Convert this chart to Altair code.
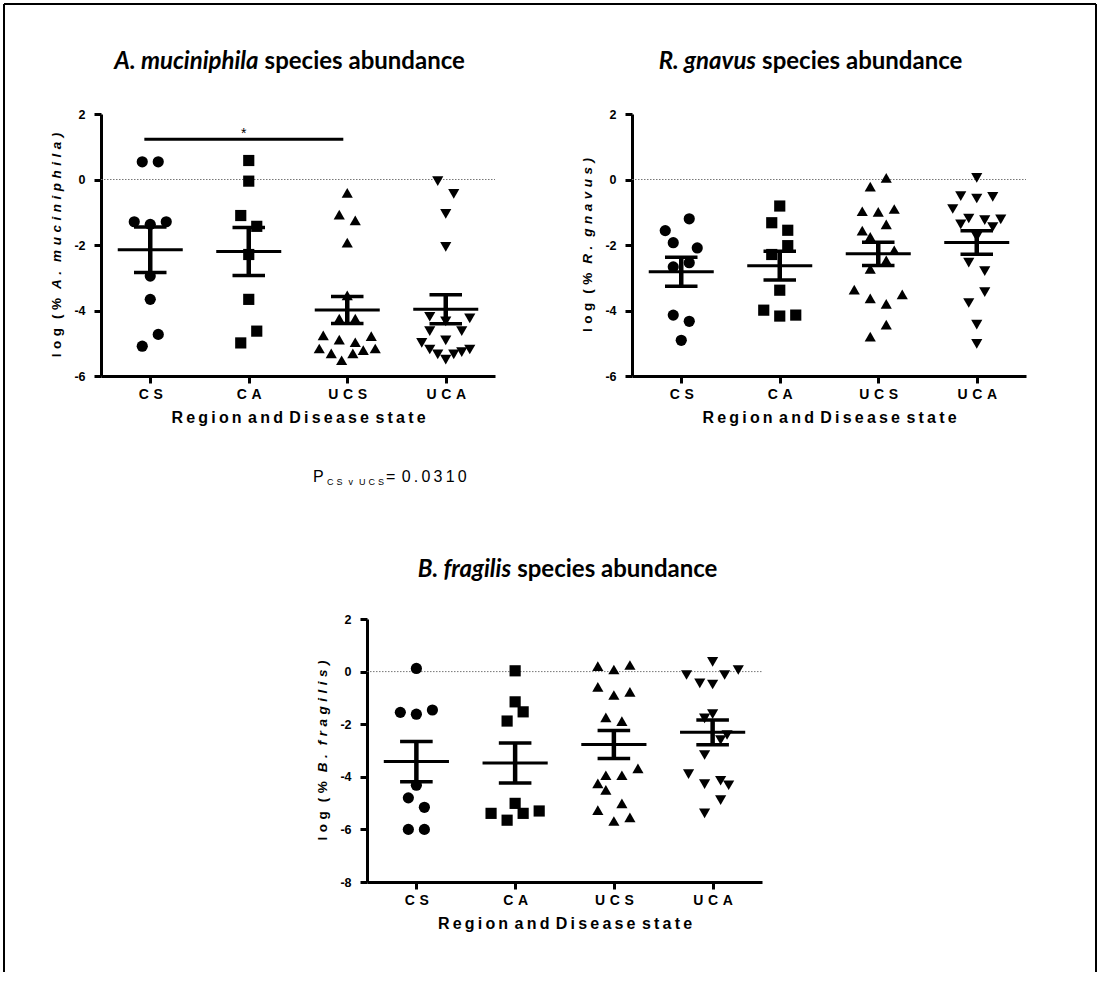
import altair as alt
import pandas as pd

groups = ["CS", "CA", "UCS", "UCA"]

# ---------- A. muciniphila : log(% abundance) ----------
akk_cs = [0.54, 0.54, -1.29, -1.37, -1.29, -2.95, -3.66, -4.73, -5.09]
akk_ca = [0.58, -0.05, -1.10, -1.43, -2.29, -3.66, -4.63, -4.99]
akk_ucs = [-0.41, -1.07, -1.25, -1.93, -3.54, -4.25, -4.25, -4.76, -4.89,
           -4.97, -4.78, -5.16, -5.31, -5.31, -5.21, -5.16, -5.52]
akk_uca = [-0.05, -0.44, -1.05, -2.06, -4.19, -4.33, -4.24, -4.63, -4.63,
           -4.91, -4.99, -5.19, -5.34, -5.50, -5.34, -5.27, -5.19]
# column (scatter slot) of each point inside its group
akk_cs_col = [-1, 1, -2, 0, 2, 0, 0, 1, -1]
akk_ca_col = [0, 0, -1, 1, 0, 0, 1, -1]
akk_ucs_col = [0, -1, 1, 0, 0, -1, 1, -3, -1, 1, 3, -3.5, -2, 0.7, 2, 3.5, -0.7]
akk_uca_col = [-1, 1, 0, 0, -2, 0, 3, -2, 2, 0, -3, -2, -1, 0, 1, 2, 3]

# ---------- R. gnavus ----------
rg_cs = [-1.20, -1.56, -1.93, -2.09, -2.54, -2.67, -4.14, -4.33, -4.91]
rg_ca = [-0.81, -1.32, -1.55, -2.02, -2.29, -3.38, -3.99, -4.17, -4.14]
rg_ucs = [0.05, -0.22, -0.97, -0.99, -0.90, -1.37, -1.56, -1.75, -2.16,
          -2.47, -2.73, -3.36, -3.51, -3.63, -3.80, -4.43, -4.80]
rg_uca = [0.05, -0.51, -0.58, -0.53, -0.90, -1.19, -1.24, -1.22, -1.37,
          -1.45, -1.75, -2.54, -2.80, -3.44, -3.77, -4.43, -5.02]
rg_cs_col = [1, -2, -1, 2, 1, -1, -1, 1, 0]
rg_ca_col = [0, -1, 1, 1, -1, 0, -2, 0, 2]
rg_ucs_col = [1, -1, -2, 0, 2, 1, -2, -1, 2, 1, -1, -3, 3, -1, 1, 1, -1]
rg_uca_col = [0, -2, 0, 2, -3, -1, 1, 3, -2, 2, 0, -1, 1, 1, -1, 0, 0]

# ---------- B. fragilis ----------
bf_cs = [0.12, -1.55, -1.62, -1.46, -4.32, -4.80, -5.16, -6.00, -6.00]
bf_ca = [0.03, -1.15, -1.53, -1.88, -5.01, -5.39, -5.65, -5.39, -5.30]
bf_ucs = [0.21, 0.08, 0.25, -0.58, -0.89, -0.77, -1.74, -1.88, -3.94,
          -3.94, -3.68, -4.25, -4.50, -5.01, -5.27, -5.54, -5.68]
bf_uca = [0.37, -0.13, -0.45, -0.49, -0.13, 0.06, -1.78, -1.62, -2.41,
          -2.60, -3.17, -3.90, -4.28, -4.15, -4.32, -5.39, -4.89]
bf_cs_col = [0, -2, 0, 2, 0, -1, 1, -1, 1]
bf_ca_col = [0, 0, 1, -1, 0, -3, -1, 1, 3]
bf_ucs_col = [-2, 0, 2, -2, 0, 2, -1, 1, -1, 1, 3, -2, -1, 1, -2, 2, 0]
bf_uca_col = [0, -3.25, -1.6, 0, 1.5, 3.2, -1, 0, 1.8, 1, -1, -3, -1, 1, 2, -1, 1]

# significance annotation (A. muciniphila, CS vs UCS)
sig_pair = ["CS", "UCS"]
sig_label = "*"
p_label = "P"
p_sub = "CS v UCS"
p_value = "0.0310"

x_title = "Region and Disease state"
title_rest = "species abundance"

# ---------------- styling / layout ----------------
SP = "\u2004"     # letter spacing (three-per-em space)
THIN = "\u2009"
AXIS_FONT = "Liberation Sans"
TITLE_FONT = "Lato"
TITLE_SIZE = 24
SLOT = 8 / 98.5
MEAN_HALF = 0.33
CAP_HALF = 0.165
MS = 125
SHAPES = ["circle", "square", "triangle-up", "triangle-down"]


def spaced(s, sp):
    return (sp + sp).join(sp.join(w) for w in s.split(" "))


AB = {'l': .278, 'o': .611, 'g': .611, '(': .333, '%': .889, ')': .333, 'A': .722,
      '.': .278, 'm': .889, 'u': .611, 'c': .556, 'i': .278, 'n': .611, 'p': .611,
      'h': .611, 'a': .556, 'R': .722, 'v': .556, 's': .556, 'B': .722, 'f': .333,
      'r': .389, ' ': .278, SP: 1 / 3}


def text_width(s, size):
    return size * sum(AB.get(c, 0.6) for c in s)


panels = [
    dict(vals=[akk_cs, akk_ca, akk_ucs, akk_uca],
         cols=[akk_cs_col, akk_ca_col, akk_ucs_col, akk_uca_col],
         italic="A. muciniphila", xr=[0, 394], yr=[262, 0], yd=[-6, 2],
         yticks=[-6, -4, -2, 0, 2], xoff=-506, yoff=0,
         title_x=1.10, title_y=3.59, sig=True),
    dict(vals=[rg_cs, rg_ca, rg_ucs, rg_uca],
         cols=[rg_cs_col, rg_ca_col, rg_ucs_col, rg_uca_col],
         italic="R. gnavus", xr=[531, 925], yr=[262, 0], yd=[-6, 2],
         yticks=[-6, -4, -2, 0, 2], xoff=-506, yoff=-531,
         title_x=0.76, title_y=3.59, sig=False),
    dict(vals=[bf_cs, bf_ca, bf_ucs, bf_uca],
         cols=[bf_cs_col, bf_ca_col, bf_ucs_col, bf_uca_col],
         italic="B. fragilis", xr=[266, 661], yr=[768, 505], yd=[-8, 2],
         yticks=[-8, -6, -4, -2, 0, 2], xoff=0, yoff=-266,
         title_x=0.96, title_y=3.86, sig=False),
]

label_list = [spaced(g, SP) for g in groups]
label_expr = "[" + ",".join("'" + s + "'" for s in label_list) + "][datum.value]"


def panel_layers(p):
    rows = []
    for gi, (g, vals, cols) in enumerate(zip(groups, p["vals"], p["cols"])):
        for v, c in zip(vals, cols):
            rows.append({"group": g, "gi": gi, "value": v, "col": c})
    df = pd.DataFrame(rows)
    xs = alt.Scale(domain=[-0.5, 3.5], range=p["xr"], nice=False, zero=False)
    ys = alt.Scale(domain=p["yd"], range=p["yr"], nice=False, zero=False)
    ppx = (p["xr"][1] - p["xr"][0]) / 4.0
    ppy = (p["yr"][0] - p["yr"][1]) / float(p["yd"][1] - p["yd"][0])

    xaxis = alt.Axis(orient="bottom", offset=p["xoff"], values=[0, 1, 2, 3],
                     labelExpr=label_expr, title=spaced(x_title, THIN), grid=False,
                     labelAngle=0, labelFlush=False, labelOverlap=False,
                     domainColor="black", domainWidth=3, tickColor="black",
                     tickWidth=3, tickSize=7, labelFont=AXIS_FONT, labelFontSize=14,
                     labelFontWeight="bold", labelColor="black", labelPadding=4,
                     titleFont=AXIS_FONT, titleFontSize=16, titleFontWeight="bold",
                     titleColor="black", titlePadding=8)
    yaxis = alt.Axis(orient="left", offset=p["yoff"], values=p["yticks"],
                     labelExpr="'' + datum.value", title=None, grid=False,
                     domainColor="black", domainWidth=3, tickColor="black",
                     tickWidth=3, tickSize=7, labelFont=AXIS_FONT, labelFontSize=12.5,
                     labelFontWeight="bold", labelColor="black", labelPadding=9)

    def X(f, axis=None):
        return alt.X(f, scale=xs, axis=axis)

    def Y(f, axis=None):
        return alt.Y(f, scale=ys, axis=axis)

    layers = []
    # dotted zero line
    zero = alt.Chart(pd.DataFrame({"a": [-0.5], "b": [3.5], "y": [0]})).mark_rule(
        color="#777777", strokeWidth=1, strokeDash=[1.5, 1.5]).encode(
        x=X("a:Q"), x2="b:Q", y=Y("y:Q"))
    layers.append(zero)

    pts = alt.Chart(df).transform_calculate(
        xp=f"datum.gi + datum.col * {SLOT}").mark_point(
        filled=True, color="black", opacity=1, size=MS).encode(
        x=X("xp:Q", xaxis), y=Y("value:Q", yaxis),
        shape=alt.Shape("group:N", scale=alt.Scale(domain=groups, range=SHAPES),
                        legend=None))
    layers.append(pts)

    stats = alt.Chart(df).transform_aggregate(
        m="mean(value)", se="stderr(value)", groupby=["gi"]).transform_calculate(
        lo="datum.m - datum.se", hi="datum.m + datum.se",
        a=f"datum.gi - {MEAN_HALF}", b=f"datum.gi + {MEAN_HALF}",
        c=f"datum.gi - {CAP_HALF}", d=f"datum.gi + {CAP_HALF}")
    layers.append(stats.mark_rule(color="black", strokeWidth=3).encode(
        x=X("a:Q"), x2="b:Q", y=Y("m:Q")))
    layers.append(stats.mark_rule(color="black", strokeWidth=4.5).encode(
        x=X("gi:Q"), y=Y("lo:Q"), y2="hi:Q"))
    layers.append(stats.transform_fold(["lo", "hi"], as_=["k", "cv"]).mark_rule(
        color="black", strokeWidth=3.5).encode(x=X("c:Q"), x2="d:Q", y=Y("cv:Q")))

    # panel title: italic species name + plain rest
    tdf = pd.DataFrame([{"x": p["title_x"], "x2": p["title_x"] + 6.0 / ppx,
                         "y": p["title_y"], "it": p["italic"], "rest": title_rest}])
    layers.append(alt.Chart(tdf).mark_text(
        font=TITLE_FONT, fontSize=TITLE_SIZE, fontWeight="bold", fontStyle="italic",
        align="right", baseline="middle", color="black").encode(
        x=X("x:Q"), y=Y("y:Q"), text="it:N"))
    layers.append(alt.Chart(tdf).mark_text(
        font=TITLE_FONT, fontSize=TITLE_SIZE, fontWeight="bold",
        align="left", baseline="middle", color="black").encode(
        x=X("x2:Q"), y=Y("y:Q"), text="rest:N"))

    # y axis title: "log (% " upright + species italic
    fs = 13.5
    gap = 9.0
    ta = spaced("log (%", SP)
    tb = spaced(p["italic"] + ")", SP)
    wa, wb = text_width(ta, fs) + gap, text_width(tb, fs)
    ymid = (p["yd"][0] + p["yd"][1]) / 2.0
    pivot = ymid - (wb - wa) / 2.0 / ppy
    ydf = pd.DataFrame([{"x": -0.5 - 44.0 / ppx, "ya": pivot - gap / ppy,
                         "yb": pivot, "a": ta, "b": tb}])
    layers.append(alt.Chart(ydf).mark_text(
        font=AXIS_FONT, fontSize=fs, fontWeight="bold", angle=270,
        align="right", baseline="middle", color="black").encode(
        x=X("x:Q"), y=Y("ya:Q"), text="a:N"))
    layers.append(alt.Chart(ydf).mark_text(
        font=AXIS_FONT, fontSize=fs, fontWeight="bold", fontStyle="italic",
        angle=270, align="left", baseline="middle", color="black").encode(
        x=X("x:Q"), y=Y("yb:Q"), text="b:N"))

    if p["sig"]:
        i0, i1 = groups.index(sig_pair[0]), groups.index(sig_pair[1])
        sdf = pd.DataFrame([{"a": i0 - 0.06, "b": i1 - 0.04, "y": 1.23,
                             "m": (i0 + i1) / 2.0 - 0.05, "t": sig_label}])
        layers.append(alt.Chart(sdf).mark_rule(color="black", strokeWidth=3).encode(
            x=X("a:Q"), x2="b:Q", y=Y("y:Q")))
        layers.append(alt.Chart(sdf).mark_text(
            font=AXIS_FONT, fontSize=14, align="center", baseline="alphabetic",
            dy=-1, color="black").encode(x=X("m:Q"), y=Y("y:Q"), text="t:N"))

        pdf = pd.DataFrame([{"x": 1.652, "y": -9.237, "p": p_label,
                             "s": spaced(p_sub, SP),
                             "v": "=" + THIN + THIN + spaced(p_value, THIN)}])
        layers.append(alt.Chart(pdf).mark_text(
            font=AXIS_FONT, fontSize=16, align="left", baseline="alphabetic",
            color="black").encode(x=X("x:Q"), y=Y("y:Q"), text="p:N"))
        layers.append(alt.Chart(pdf).mark_text(
            font=AXIS_FONT, fontSize=9, align="left", baseline="alphabetic",
            dx=14, dy=3, color="black").encode(x=X("x:Q"), y=Y("y:Q"), text="s:N"))
        layers.append(alt.Chart(pdf).mark_text(
            font=AXIS_FONT, fontSize=16, align="left", baseline="alphabetic",
            dx=73, color="black").encode(x=X("x:Q"), y=Y("y:Q"), text="v:N"))
    return layers


all_layers = []
for p in panels:
    all_layers += panel_layers(p)

# figure frame
one = alt.Data(values=[{}])
all_layers.append(alt.Chart(one).mark_rule(color="black", strokeWidth=2).encode(
    x=alt.value(-97), x2=alt.value(995), y=alt.value(-110)))
all_layers.append(alt.Chart(one).mark_rule(color="black", strokeWidth=2).encode(
    x=alt.value(-97), y=alt.value(-110), y2=alt.value(858)))
all_layers.append(alt.Chart(one).mark_rule(color="black", strokeWidth=2).encode(
    x=alt.value(995), y=alt.value(-110), y2=alt.value(858)))

chart = alt.layer(*all_layers).resolve_scale(
    x="independent", y="independent").properties(
    width=925, height=768,
    padding={"left": 3, "top": 3, "right": 0, "bottom": 0},
    background="white").configure_view(stroke=None)

chart.save("out.html", embed_options={"renderer": "svg", "actions": False})
